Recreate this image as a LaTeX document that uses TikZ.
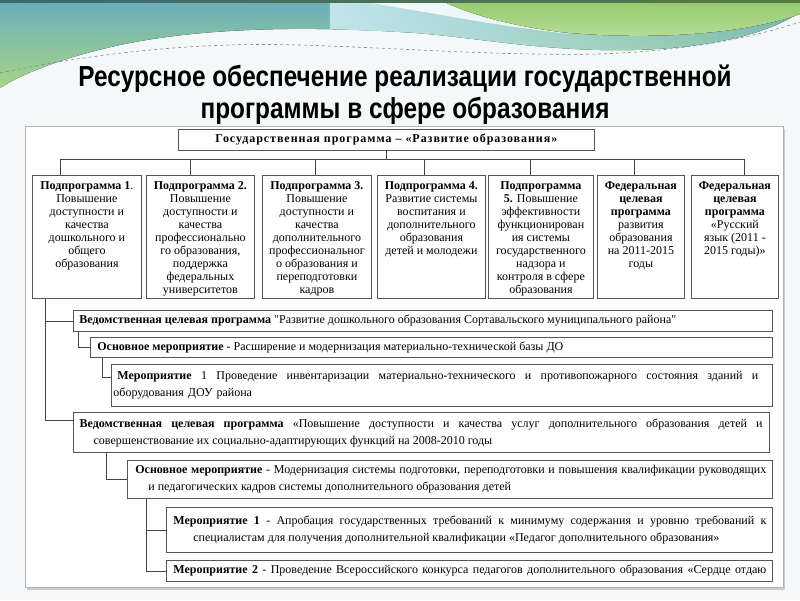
\documentclass[tikz,border=0pt]{standalone}
\usepackage{fontspec}
\setmainfont{Liberation Serif}
\newfontfamily\titlefont[FakeStretch=0.84]{Liberation Sans}
\newfontfamily\gpfont[LetterSpace=8]{Liberation Serif}
\newfontfamily\rawfont[Ligatures=TeXOff]{Liberation Serif}
\usetikzlibrary{positioning,shadows,fadings}
\definecolor{boxline}{HTML}{555555}
\definecolor{linkcol}{HTML}{444444}
\definecolor{tealtop}{HTML}{69AEBC}
\definecolor{greenlow}{HTML}{A8D585}
\definecolor{cyanlow}{HTML}{C2E6EA}
\definecolor{greentop}{HTML}{93C96B}
\definecolor{greenmid}{HTML}{B9DE9C}
\definecolor{dashcol}{HTML}{6F8FA8}
\definecolor{pagebg}{HTML}{F5F8F8}
% full-width line with ordinary stretchable spaces
\newcommand\fullline[2]{{\spaceskip=0pt\xspaceskip=0pt\makebox[#1][s]{#2}}}
\newcommand\sq{{\rawfont"}}

\begin{document}
\begin{tikzpicture}[x=1pt,y=-1pt,
  sub/.style={draw=boxline, line width=.8pt, fill=white, anchor=north west,
    inner sep=0pt, minimum height=123pt},
  subtxt/.style={font=\fontsize{12}{13.1}\selectfont, align=center, inner sep=0pt},
  rowbox/.style={draw=boxline, line width=.8pt, fill=white, anchor=north west,
    inner sep=0pt, align=left, font=\fontsize{12}{17}\selectfont},
  link/.style={draw=linkcol, line width=.8pt}]

   \useasboundingbox (0,0) rectangle (800,600);
   \fill[pagebg] (0,0) rectangle (800,600);

   % top waves
   \fill[top color=tealtop, bottom color=greenlow]
     (0,0) -- (800,0) -- (800,12) .. controls (760,40) and (680,52) .. (600,50)
     .. controls (520,48) and (460,35) .. (400,32)
     .. controls (300,26) and (200,28) .. (120,45)
     .. controls (60,58) and (20,75) .. (0,88) -- cycle;
   \fill[cyanlow, path fading=east]
     (330,0) -- (800,0) -- (800,12) .. controls (760,40) and (680,52) .. (600,50)
     .. controls (520,48) and (460,35) .. (400,32) -- (330,29) -- cycle;
   \fill[white, opacity=.8]
     (352,0) .. controls (420,10) and (480,24) .. (570,34)
     .. controls (490,20) and (450,6) .. (440,0) -- cycle;
   \fill[top color=greentop, bottom color=greenmid]
     (440,0) -- (800,0) -- (800,14) .. controls (740,36) and (640,40) .. (560,32)
     .. controls (500,24) and (465,12) .. (440,0) -- cycle;
   \fill[left color=tealtop!60!black, right color=greentop!60!black] (0,0) rectangle (800,2);
   \draw[dashcol, dashed, line width=.6pt]
     (0,73) .. controls (100,52) and (200,42) .. (300,45)
     .. controls (400,48) and (500,56) .. (600,54)
     .. controls (700,50) and (760,35) .. (800,22);

   % title
   \node[font=\titlefont\bfseries\fontsize{29}{32}\selectfont, anchor=base, inner sep=0pt]
     (title1) at (405,86) {Ресурсное обеспечение реализации государственной};
   \node[font=\titlefont\bfseries\fontsize{29}{32}\selectfont, anchor=base, inner sep=0pt]
     (title2) at (405,118) {программы в сфере образования};

   % panel
   \node[draw=gray!60, fill=white, anchor=north west, inner sep=0pt,
     minimum width=758pt, minimum height=461pt,
     drop shadow={opacity=.35, shadow xshift=2pt, shadow yshift=-3pt}] (panel) at (25,126) {};

   % state programme
   \node[draw=boxline, line width=.8pt, fill=white, anchor=north west, inner sep=0pt,
     minimum width=416pt, minimum height=21pt, font=\gpfont\bfseries\fontsize{12}{13}\selectfont]
     (gp) at (178,129) {Государственная программа – «Развитие образования»};

   % subprogrammes
   \node[sub, minimum width=109pt] (sp1) at (32,175) {};
   \node[sub, minimum width=108pt] (sp2) at (146,175) {};
   \node[sub, minimum width=109pt] (sp3) at (262,175) {};
   \node[sub, minimum width=108pt] (sp4) at (377,175) {};
   \node[sub, minimum width=105pt] (sp5) at (488,175) {};
   \node[sub, minimum width=87pt] (sp6) at (597,175) {};
   \node[sub, minimum width=87pt] (sp7) at (691,175) {};

   \node[subtxt, below=6pt of sp1.north] (sp1t) {\textbf{Подпрограмма 1}.\\Повышение\\доступности и\\качества\\дошкольного и\\общего\\образования};
   \node[subtxt, below=6pt of sp2.north] (sp2t) {\textbf{Подпрограмма 2.}\\Повышение\\доступности и\\качества\\профессионально\\го образования,\\поддержка\\федеральных\\университетов};
   \node[subtxt, below=6pt of sp3.north] (sp3t) {\textbf{Подпрограмма 3.}\\Повышение\\доступности и\\качества\\дополнительного\\профессиональног\\о образования и\\переподготовки\\кадров};
   \node[subtxt, below=6pt of sp4.north] (sp4t) {\textbf{Подпрограмма 4.}\\Развитие системы\\воспитания и\\дополнительного\\образования\\детей и молодежи};
   \node[subtxt, below=6pt of sp5.north] (sp5t) {\textbf{Подпрограмма}\\\textbf{5.} Повышение\\эффективности\\функционирован\\ия системы\\государственного\\надзора и\\контроля в сфере\\образования};
   \node[subtxt, below=6pt of sp6.north] (sp6t) {\textbf{Федеральная}\\\textbf{целевая}\\\textbf{программа}\\развития\\образования\\на 2011-2015\\годы};
   \node[subtxt, below=6pt of sp7.north] (sp7t) {\textbf{Федеральная}\\\textbf{целевая}\\\textbf{программа}\\«Русский\\язык (2011 -\\2015 годы)»};

   % bus
   \coordinate (b1) at (60,159);
   \coordinate (b2) at (190,159);
   \coordinate (b3) at (315,159);
   \coordinate (b4) at (424,159);
   \coordinate (b5) at (530,159);
   \coordinate (b6) at (634,159);
   \coordinate (b7) at (744,159);
   \draw[link] (gp.south) -- (gp.south |- b1);
   \draw[link] (b1) -- (b7);
   \foreach \i in {1,...,7}
     \draw[link] (b\i) -- (b\i |- sp\i.north);

   % departmental programmes and measures
   \node[rowbox, minimum width=699pt, minimum height=21pt, text width=699pt] (vA) at (73,310)
     {\hspace*{6pt}{\spaceskip=0pt\textbf{Ведомственная целевая программа} \sq Развитие дошкольного образования Сортавальского муниципального района\sq}};
   \node[rowbox, minimum width=682pt, minimum height=20pt, text width=682pt] (vB) at (90,337)
     {\hspace*{7pt}{\spaceskip=0pt\textbf{Основное мероприятие} - Расширение и модернизация материально-технической базы ДО}};
   \node[rowbox, minimum width=661pt, minimum height=42pt, text width=661pt] (vC) at (111,364)
     {\hspace*{6pt}\fullline{641pt}{\textbf{Мероприятие} 1 Проведение инвентаризации материально-технического и противопожарного состояния зданий и}\\
      \hspace*{2pt}оборудования ДОУ района};
   \node[rowbox, minimum width=696pt, minimum height=40pt, text width=696pt, line width=1.2pt] (vD) at (73,412)
     {\hspace*{6pt}\fullline{683pt}{\textbf{Ведомственная целевая программа} «Повышение доступности и качества услуг дополнительного образования детей и}\\
      \hspace*{20pt}{\spaceskip=0pt совершенствование их социально-адаптирующих функций на 2008-2010 годы}};
   \node[rowbox, minimum width=645pt, minimum height=38pt, text width=645pt] (vE) at (127,460)
     {\hspace*{8pt}\fullline{631pt}{\textbf{Основное мероприятие} - Модернизация системы подготовки, переподготовки и повышения квалификации руководящих}\\
      \hspace*{21pt}{\spaceskip=0pt и педагогических кадров системы дополнительного образования детей}};
   \node[rowbox, minimum width=606pt, minimum height=45pt, text width=606pt] (vF) at (166,507)
     {\hspace*{7pt}\fullline{593pt}{\textbf{Мероприятие 1} - Апробация государственных требований к минимуму содержания и уровню требований к}\\
      \hspace*{27pt}{\spaceskip=0pt специалистам для получения дополнительной квалификации «Педагог дополнительного образования»}};
   \node[rowbox, minimum width=606pt, minimum height=21pt, text width=606pt] (vG) at (166,560)
     {\hspace*{7pt}\fullline{593pt}{\textbf{Мероприятие 2} - Проведение Всероссийского конкурса педагогов дополнительного образования «Сердце отдаю}};

   % tree
   \coordinate (trk) at (45,0);
   \draw[link] (trk |- sp1.south) |- ([yshift=12pt]vD.west);
   \draw[link] (trk |- vA.west) -- (vA.west);
   \draw[link] ([xshift=5pt]vA.south west) |- (vB.west);
   \draw[link] ([xshift=12pt]vB.south west) |- ([yshift=8pt]vC.west);
   \draw[link] ([xshift=33pt]vD.south west) |- (vE.west);
   \draw[link] ([xshift=19pt]vE.south west) |- (vG.west);
   \draw[link] ([xshift=19pt]vE.south west |- vF.west) -- (vF.west);

\end{tikzpicture}
\end{document}
